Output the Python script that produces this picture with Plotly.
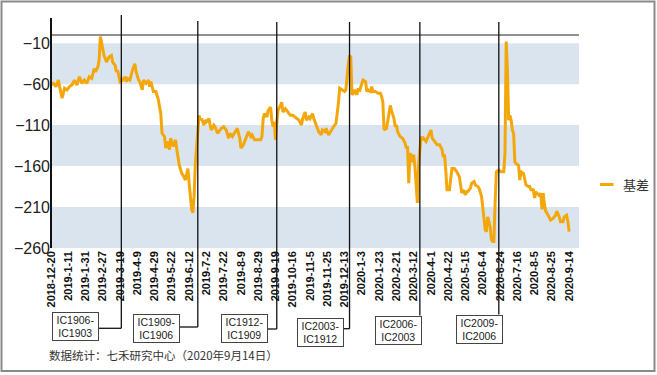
import plotly.graph_objects as go

# ---- data ----
day_idx = [0, 2, 4, 6, 7, 9, 11, 13, 15, 17, 19, 21, 23, 25, 27, 29, 31, 33, 35, 36, 38, 39, 40, 42, 43, 45, 47, 49, 50, 52,
           53, 54, 56, 58, 60, 61, 62, 64, 66, 68, 69, 71, 72, 74, 75, 77, 79, 80, 81, 83, 85, 87, 89, 90, 92, 93, 95, 96, 97, 99,
           101, 102, 104, 106, 107, 109, 111, 112, 113, 114, 115, 116, 117, 119, 120, 121, 122, 124, 125, 126, 128, 129, 130, 132, 133, 135, 136, 138, 140, 142,
           144, 145, 147, 149, 151, 153, 154, 156, 158, 160, 162, 163, 165, 167, 170, 171, 172, 173, 175, 176, 178, 179, 180, 181, 182, 183, 184, 186, 187, 188,
           190, 192, 194, 196, 198, 199, 201, 203, 204, 206, 207, 209, 210, 212, 213, 215, 217, 219, 220, 222, 223, 225, 227, 229, 231, 232, 233, 234, 236, 238,
           239, 240, 241, 242, 243, 244, 245, 246, 248, 249, 250, 252, 253, 255, 256, 257, 259, 260, 261, 263, 265, 267, 268, 269, 270, 272, 273, 275, 276, 278,
           279, 280, 281, 283, 285, 287, 288, 289, 290, 291, 293, 294, 295, 297, 298, 300, 301, 302, 304, 305, 306, 308, 309, 311, 313, 315, 317, 318, 319, 320,
           321, 323, 324, 325, 327, 329, 331, 333, 334, 336, 337, 338, 340, 341, 343, 344, 346, 347, 349, 350, 351, 352, 353, 354, 356, 357, 358, 359, 360, 361,
           363, 365, 367, 368, 369, 370, 371, 372, 373, 374, 375, 376, 377, 379, 380, 381, 383, 384, 385, 387, 388, 389, 391, 392, 393, 394, 395, 396, 397, 398,
           399, 400, 401, 403, 405, 407, 409, 410, 412, 413, 415, 416, 418, 419, 420]
basis = [-61, -59, -63, -55, -63, -77, -65, -67, -63, -61, -55, -61, -51, -59, -55, -59, -51, -53, -41, -45, -39, -31, -2, -18, -25, -33, -27, -25, -33, -37,
         -45, -43, -57, -55, -51, -57, -53, -55, -43, -35, -45, -55, -57, -67, -55, -59, -55, -63, -57, -69, -69, -79, -96, -120, -124, -138, -130, -140, -126, -136,
         -128, -140, -159, -169, -171, -177, -163, -181, -201, -213, -217, -197, -157, -124, -98, -104, -102, -110, -104, -106, -102, -110, -116, -110, -112, -120, -118, -114, -112, -116,
         -126, -120, -124, -118, -114, -126, -138, -134, -126, -118, -124, -122, -128, -128, -128, -124, -102, -96, -100, -92, -88, -104, -112, -106, -128, -108, -92, -86, -82, -94,
         -90, -94, -98, -98, -100, -102, -104, -110, -102, -94, -104, -100, -102, -96, -102, -110, -118, -122, -116, -118, -114, -122, -116, -112, -108, -98, -83, -65, -67, -69,
         -67, -47, -35, -25, -27, -73, -71, -67, -73, -65, -69, -59, -55, -57, -69, -67, -69, -63, -69, -69, -71, -71, -75, -82, -116, -114, -104, -86, -92, -102,
         -112, -110, -118, -124, -126, -132, -138, -136, -181, -144, -155, -146, -161, -205, -157, -124, -128, -126, -130, -126, -124, -116, -126, -130, -134, -134, -140, -149, -146, -165,
         -189, -189, -173, -163, -163, -167, -173, -193, -189, -195, -191, -191, -187, -181, -179, -183, -185, -187, -197, -209, -222, -238, -240, -222, -234, -250, -252, -252, -205, -167,
         -165, -167, -167, -144, -8, -43, -104, -98, -104, -116, -120, -155, -157, -159, -177, -167, -169, -177, -183, -185, -185, -189, -189, -199, -191, -195, -193, -197, -193, -213,
         -193, -207, -215, -220, -226, -224, -220, -215, -222, -228, -228, -222, -220, -228, -240]

tick_labels = ["2018-12-20", "2019-1-11", "2019-1-31", "2019-2-27", "2019-3-19", "2019-4-9", "2019-4-29",
               "2019-5-22", "2019-6-12", "2019-7-2", "2019-7-22", "2019-8-9", "2019-8-29", "2019-9-19",
               "2019-10-16", "2019-11-5", "2019-11-25", "2019-12-13", "2020-1-3", "2020-1-23", "2020-2-21",
               "2020-3-12", "2020-4-1", "2020-4-22", "2020-5-15", "2020-6-4", "2020-6-24", "2020-7-16",
               "2020-8-5", "2020-8-25", "2020-9-14"]
tick_step = 14

y_ticks = [-10, -60, -110, -160, -210, -260]
bands = [(-10, -60), (-110, -160), (-210, -260)]

roll_idx = [57, 119, 183, 242, 299, 363]
roll_labels = ["IC1906-<br>IC1903", "IC1909-<br>IC1906", "IC1912-<br>IC1909",
               "IC2003-<br>IC1912", "IC2006-<br>IC2003", "IC2009-<br>IC2006"]
series_name = "基差"
source_note = "数据统计：七禾研究中心（2020年9月14日）"

# ---- layout geometry (pixels) ----
W, H = 657, 375
ML, MR, MT, MB = 51, 78, 35, 127
PW, PH = W - ML - MR, H - MT - MB


def px(xp):
    return (xp - ML) / PW


def py(yp):
    return (H - MB - yp) / PH


XMAX = 428
ORANGE = "#F3A70A"
BAND = "#DAE4EF"

fig = go.Figure()
fig.add_trace(go.Scatter(x=day_idx, y=basis, mode="lines", name=series_name,
                         line=dict(color=ORANGE, width=3), showlegend=False))

shapes = []
for top, bot in bands:
    shapes.append(dict(type="rect", xref="paper", yref="y", x0=0, x1=1, y0=bot, y1=top,
                       fillcolor=BAND, line=dict(width=0), layer="below"))
# top border line
shapes.append(dict(type="line", xref="paper", yref="paper", x0=0, x1=1, y0=1, y1=1,
                   line=dict(color="#222", width=1.2)))
# left axis line
shapes.append(dict(type="line", xref="paper", yref="paper", x0=0, x1=0, y0=0, y1=py(18),
                   line=dict(color="#111", width=2)))

# roll boxes (pixel centers) and connectors
box_cx = [75, 156, 244, 320.5, 398.5, 479]
box_cy = [326.5, 328.5, 328, 332.5, 330, 329]
box_w, box_h = 47, 29
line_tops = [15, 21, 22, 22, 22, 22]
conn_y = [328.3, 327, 329, 328.7, None, None]

annotations = []
for i, (ri, lab) in enumerate(zip(roll_idx, roll_labels)):
    cx, cy = box_cx[i], box_cy[i]
    if conn_y[i] is not None:
        bottom = conn_y[i]
        shapes.append(dict(type="line", xref="x", yref="paper", x0=ri, x1=ri,
                           y0=py(line_tops[i]), y1=py(bottom), line=dict(color="#111", width=1.3)))
        bx_right = (cx + box_w / 2 - ML) / PW * XMAX
        shapes.append(dict(type="line", xref="x", yref="paper", x0=bx_right, x1=ri,
                           y0=py(bottom), y1=py(bottom), line=dict(color="#111", width=1.3)))
    else:
        bottom = cy - box_h / 2
        shapes.append(dict(type="line", xref="x", yref="paper", x0=ri, x1=ri,
                           y0=py(line_tops[i]), y1=py(bottom), line=dict(color="#111", width=1.3)))
    annotations.append(dict(text=lab, xref="paper", yref="paper", x=px(cx), y=py(cy),
                            xanchor="center", yanchor="middle", showarrow=False,
                            width=box_w - 4, height=box_h - 4, borderpad=1,
                            bordercolor="#444", borderwidth=1, bgcolor="white",
                            font=dict(family="Arial", size=10.5, color="#222"), align="center"))

# legend (manual)
shapes.append(dict(type="line", xref="paper", yref="paper", x0=px(600), x1=px(613.5),
                   y0=py(184.5), y1=py(184.5), line=dict(color=ORANGE, width=3)))
annotations.append(dict(text=series_name, xref="paper", yref="paper", x=px(621), y=py(184.5),
                        xanchor="left", yanchor="middle", showarrow=False,
                        font=dict(family="Noto Sans CJK SC", size=13, color="#333")))
# source note
annotations.append(dict(text=source_note, xref="paper", yref="paper", x=px(47), y=py(355),
                        xanchor="left", yanchor="middle", showarrow=False,
                        font=dict(family="Noto Sans CJK SC", size=11.5, color="#333")))
# outer border
shapes.append(dict(type="rect", xref="paper", yref="paper", x0=px(1.5), x1=px(654.5),
                   y0=py(1.5), y1=py(371), line=dict(color="#8a8a8a", width=2), fillcolor="rgba(0,0,0,0)"))

fig.update_layout(
    width=W, height=H,
    margin=dict(l=ML, r=MR, t=MT, b=MB, pad=0),
    paper_bgcolor="white", plot_bgcolor="white",
    shapes=shapes, annotations=annotations,
    showlegend=False,
    xaxis=dict(range=[0, XMAX], tickmode="array",
               tickvals=[i * tick_step for i in range(len(tick_labels))], ticktext=tick_labels,
               tickangle=-90, showgrid=False, zeroline=False, showline=False, ticks="",
               tickfont=dict(family="Arial", size=11, color="#111", weight="bold")),
    yaxis=dict(range=[-260, 0], tickmode="array", tickvals=y_ticks,
               showgrid=False, zeroline=False, showline=False, ticks="",
               tickfont=dict(family="Arial", size=16, color="#222")),
)

fig.write_html("out.html", config={"displayModeBar": False},
               post_script="document.body.style.margin='0';document.body.style.overflow='hidden';")
